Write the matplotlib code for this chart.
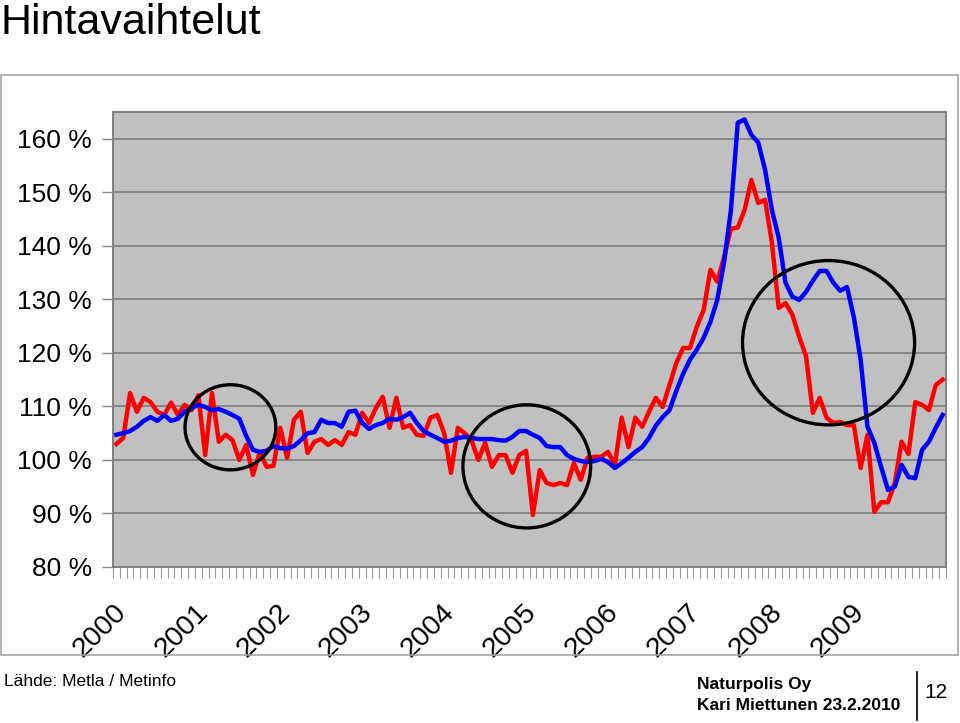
import matplotlib.pyplot as plt
from matplotlib.patches import Ellipse, Rectangle

plt.rcParams["font.family"] = ["Liberation Sans", "DejaVu Sans"]

# monthly index values (%), Jan 2000 onwards
red_series = [
    103.0, 104.1, 112.5, 109.0, 111.6, 110.8, 109.0, 108.4, 110.7, 108.4, 110.3, 109.3,
    112.1, 100.9, 112.5, 103.4, 104.7, 103.7, 100.0, 102.8, 97.2, 101.5, 98.7, 98.9,
    106.0, 100.4, 107.5, 109.0, 101.3, 103.4, 103.9, 102.8, 103.7, 102.8, 105.2, 104.7,
    108.8, 106.9, 109.7, 111.8, 106.0, 111.6, 106.0, 106.5, 104.7, 104.5, 107.9, 108.4,
    105.0, 97.6, 106.0, 105.0, 103.7, 100.0, 103.2, 98.7, 100.9, 100.9, 97.6, 100.9,
    101.7, 89.7, 98.1, 95.7, 95.3, 95.7, 95.3, 99.4, 96.3, 100.4, 100.6, 100.6,
    101.5, 99.1, 107.9, 102.4, 107.9, 106.2, 109.0, 111.6, 109.9, 114.0, 118.1, 120.9,
    120.9, 124.9, 128.0, 135.5, 133.3, 137.9, 143.2, 143.4, 146.7, 152.3, 148.0, 148.6,
    140.6, 128.4, 129.3, 127.1, 123.0, 119.4, 108.8, 111.6, 107.9, 106.9, 107.1, 106.5,
    106.5, 98.5, 104.7, 90.3, 92.1, 92.1, 95.7, 103.4, 101.1, 110.8, 110.3, 109.3,
    114.0, 115.0,
]
blue_series = [
    104.7, 105.0, 105.4, 106.2, 107.3, 108.0, 107.3, 108.4, 107.3, 107.7, 109.0, 109.7,
    110.3, 109.9, 109.3, 109.5, 109.0, 108.4, 107.7, 104.5, 101.9, 101.5, 101.7, 102.6,
    102.2, 102.1, 102.6, 103.7, 105.0, 105.2, 107.5, 106.9, 106.9, 106.2, 109.0, 109.2,
    106.9, 105.8, 106.5, 106.9, 107.7, 107.5, 108.0, 108.8, 106.9, 105.4, 104.7, 104.1,
    103.4, 103.6, 104.1, 104.3, 104.1, 103.9, 103.9, 103.9, 103.7, 103.6, 104.3, 105.4,
    105.4, 104.7, 104.1, 102.6, 102.4, 102.4, 100.9, 100.2, 99.8, 99.6, 99.8, 100.2,
    99.6, 98.5, 99.4, 100.4, 101.5, 102.4, 104.1, 106.4, 108.0, 109.3, 112.9, 116.1,
    118.7, 120.6, 122.8, 125.8, 129.9, 137.0, 146.7, 163.0, 163.6, 160.7, 159.3, 154.2,
    146.7, 141.5, 133.1, 130.5, 129.9, 131.4, 133.5, 135.3, 135.3, 133.1, 131.6, 132.3,
    126.7, 118.7, 106.2, 103.2, 98.7, 94.4, 95.0, 99.1, 96.8, 96.6, 101.9, 103.4,
    106.0, 108.4,
]
years = ["2000", "2001", "2002", "2003", "2004", "2005", "2006", "2007", "2008", "2009"]
y_ticks = [80, 90, 100, 110, 120, 130, 140, 150, 160]

fig = plt.figure(figsize=(9.6, 7.23), dpi=100)
ax = fig.add_axes([113 / 960, 1 - 567 / 723, 833 / 960, 455 / 723])
ax.set_facecolor("#c0c0c0")

n = len(red_series)
x = list(range(n))
ax.plot(x, red_series, color="#ff0000", lw=3.2, zorder=3)
ax.plot(x, blue_series, color="#0000ff", lw=3.2, zorder=4)

# highlight circles
for cx, cy, w, h in [(16.7, 106.1, 13.3, 15.9), (60.1, 98.8, 18.7, 23.0), (104.3, 121.9, 25.2, 30.7)]:
    ax.add_patch(Ellipse((cx, cy), w, h, fill=False, edgecolor="black", lw=2.4, zorder=5))

ax.set_xlim(-0.5, n - 0.5)
ax.set_ylim(80, 165)
ax.set_yticks(y_ticks)
ax.set_yticklabels([f"{v} %" for v in y_ticks], fontsize=19)
ax.grid(axis="y", color="#868686", lw=1.4, zorder=1)
ax.tick_params(axis="y", length=8, width=1, color="#868686", pad=7)

ax.set_xticks([i - 0.5 for i in range(n + 1)])
ax.set_xticklabels([])
ax.tick_params(axis="x", length=8, width=0.8, color="#9a9a9a")

for spine in ax.spines.values():
    spine.set_color("#7f7f7f")
    spine.set_linewidth(1.4)

for k, yr in enumerate(years):
    ax.annotate(yr, xy=(12 * k, 0), xycoords=("data", "axes fraction"),
                xytext=(-3, -32), textcoords="offset pixels",
                rotation=45, rotation_mode="anchor", ha="right", va="top", fontsize=20.5)

# outer chart frame
fig.patches.append(Rectangle((1 / 960, 1 - 655 / 723), 957 / 960, 580 / 723,
                             transform=fig.transFigure, fill=False,
                             edgecolor="#a6a6a6", lw=1.2))

fig.text(0.0, 1 - 3 / 723, "Hintavaihtelut", fontsize=31, va="top", ha="left")
fig.text(4 / 960, 1 - 681 / 723, "Lähde: Metla / Metinfo", fontsize=12.5, va="center", ha="left")
fig.text(697 / 960, 1 - 684 / 723, "Naturpolis Oy", fontsize=12.5, fontweight="bold", va="center", ha="left")
fig.text(697 / 960, 1 - 705 / 723, "Kari Miettunen 23.2.2010", fontsize=12.5, fontweight="bold", va="center", ha="left")
fig.text(936 / 960, 1 - 692 / 723, "12", fontsize=15, va="center", ha="center")
fig.add_artist(plt.Line2D([917 / 960, 917 / 960], [1 - 672 / 723, 1 - 720 / 723],
                          transform=fig.transFigure, color="black", lw=1.2))

fig.savefig("out.png", dpi=100)
